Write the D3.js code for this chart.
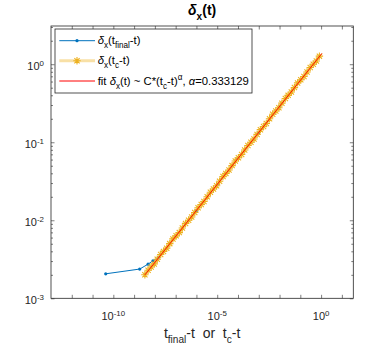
<!DOCTYPE html>
<html>
<head>
<meta charset="utf-8">
<script src="https://cdn.jsdelivr.net/npm/d3@7"></script>
<style>
  body { margin: 0; background: #fff; }
  svg { display: block; font-family: "Liberation Sans", Arial, sans-serif; }
</style>
</head>
<body>
<div id="wrapper"></div>
<script>
// delta_x(t_final - t)
const finalT = [4.3e-11, 1.86e-9, 4.7e-9, 8.1e-9, 1.5e-8, 1e-7, 1e-6, 1e-5, 1e-4, 1e-3, 1e-2, 1e-1]
const finalDelta = [2.06e-3, 2.37e-3, 2.74e-3, 3.03e-3, 3.35e-3, 6.2e-3, 1.33e-2, 2.87e-2, 6.19e-2, 0.133, 0.287, 0.619]

// delta_x(t_c - t)
const tcT = [
  3.3e-9, 4.7e-9, 6.6e-9, 9.3e-9, 1.3e-8, 1.9e-8, 2.6e-8, 3.7e-8, 5.2e-8, 7.4e-8,
  1.05e-7, 1.5e-7, 2.1e-7, 3.0e-7, 4.2e-7, 5.9e-7, 8.3e-7, 1.2e-6, 1.7e-6, 2.3e-6,
  3.3e-6, 4.7e-6, 6.6e-6, 9.3e-6, 1.3e-5, 1.9e-5, 2.6e-5, 3.7e-5, 5.2e-5, 7.4e-5,
  1.05e-4, 1.5e-4, 2.1e-4, 3.0e-4, 4.2e-4, 5.9e-4, 8.3e-4, 1.2e-3, 1.7e-3, 2.3e-3,
  3.3e-3, 4.7e-3, 6.6e-3, 9.3e-3, 1.3e-2, 1.9e-2, 2.6e-2, 3.7e-2, 5.2e-2, 7.4e-2,
  0.105, 0.15, 0.21, 0.30, 0.42, 0.59, 0.83
]
const tcDelta = [
  2.00e-3, 2.29e-3, 2.52e-3, 2.76e-3, 3.17e-3, 3.64e-3, 3.99e-3, 4.39e-3, 5.02e-3, 5.77e-3,
  6.32e-3, 6.95e-3, 7.96e-3, 9.12e-3, 1.00e-2, 1.10e-2, 1.26e-2, 1.45e-2, 1.59e-2, 1.74e-2,
  2.00e-2, 2.29e-2, 2.52e-2, 2.77e-2, 3.17e-2, 3.63e-2, 3.99e-2, 4.40e-2, 5.02e-2, 5.76e-2,
  6.32e-2, 6.96e-2, 7.96e-2, 9.10e-2, 0.100, 0.110, 0.126, 0.145, 0.159, 0.174,
  0.200, 0.229, 0.252, 0.277, 0.317, 0.363, 0.399, 0.440, 0.502, 0.576,
  0.632, 0.696, 0.796, 0.910, 1.00, 1.10, 1.27
]

// fit delta_x(t) ~ C*(t_c - t)^alpha
const fitT = [3.3e-9, 1.1]
const fitDelta = [1.995e-3, 1.377]
const alphaLabel = '0.333129'

const xTicks = [1e-12, 1e-11, 1e-10, 1e-9, 1e-8, 1e-7, 1e-6, 1e-5, 1e-4, 1e-3, 1e-2, 1e-1, 1e0, 1e1]
const xTickLabels = [[1e-10, '-10'], [1e-5, '-5'], [1e0, '0']]
const yTicks = [1e-3, 1e-2, 1e-1, 1e0]
const yTickLabels = [[1e-3, '-3'], [1e-2, '-2'], [1e-1, '-1'], [1e0, '0']]

const dimensions = {
  width: 391,
  height: 347,
  margin: { top: 26, right: 37.7, bottom: 48.7, left: 51 },
}
dimensions.boundedWidth = dimensions.width - dimensions.margin.left - dimensions.margin.right
dimensions.boundedHeight = dimensions.height - dimensions.margin.top - dimensions.margin.bottom

const axisColor = '#262626'
const blue = '#0072BD'
const orange = '#EDB120'
const red = '#FF0000'

const xScale = d3.scaleLog()
  .domain([1e-13, Math.pow(10, 1.55)])
  .range([0, dimensions.boundedWidth])
const yScale = d3.scaleLog()
  .domain([1e-3, Math.pow(10, 0.49)])
  .range([dimensions.boundedHeight, 0])

// minor y ticks 2..9 in each decade
const yMinor = []
for (let e = -3; e <= 0; e++) {
  for (let m = 2; m <= 9; m++) {
    const v = m * Math.pow(10, e)
    if (v < yScale.domain()[1]) yMinor.push(v)
  }
}

const svg = d3.select('#wrapper')
  .append('svg')
  .attr('width', dimensions.width)
  .attr('height', dimensions.height)

// rich text helper: parts are [text, 'sub' | 'sup' | 'it' | null]
function richText(sel, parts, size) {
  let shift = 0
  parts.forEach(([t, kind]) => {
    const ts = sel.append('tspan').text(t)
    let target = 0
    if (kind === 'sub') target = size * 0.35
    if (kind === 'sup') target = -size * 0.42
    ts.attr('dy', target - shift)
    shift = target
    if (kind === 'sub' || kind === 'sup') ts.attr('font-size', size * 0.72)
    if (kind === 'it') ts.attr('font-style', 'italic')
  })
}

// title
const title = svg.append('text')
  .attr('x', dimensions.margin.left + dimensions.boundedWidth / 2)
  .attr('y', 15)
  .attr('text-anchor', 'middle')
  .attr('font-size', 14)
  .attr('font-weight', 'bold')
  .attr('fill', '#000')
richText(title, [['δ', 'it'], ['x', 'sub'], ['(t)', null]], 14)

const bounds = svg.append('g')
  .attr('transform', `translate(${dimensions.margin.left}, ${dimensions.margin.top})`)

bounds.append('rect')
  .attr('width', dimensions.boundedWidth)
  .attr('height', dimensions.boundedHeight)
  .attr('fill', '#fff')

// clip path for data
bounds.append('clipPath').attr('id', 'clip')
  .append('rect')
  .attr('width', dimensions.boundedWidth)
  .attr('height', dimensions.boundedHeight)

const plot = bounds.append('g').attr('clip-path', 'url(#clip)')

const lineGen = d3.line()
  .x((d) => xScale(d[0]))
  .y((d) => yScale(d[1]))

const finalData = finalT.map((t, i) => [t, finalDelta[i]])
const tcData = tcT.map((t, i) => [t, tcDelta[i]])
const fitData = fitT.map((t, i) => [t, fitDelta[i]])

// blue series
plot.append('path')
  .datum(finalData)
  .attr('d', lineGen)
  .attr('fill', 'none')
  .attr('stroke', blue)
  .attr('stroke-width', 1)
plot.selectAll('.dot')
  .data(finalData)
  .enter()
  .append('circle')
  .attr('class', 'dot')
  .attr('cx', (d) => xScale(d[0]))
  .attr('cy', (d) => yScale(d[1]))
  .attr('r', 1.6)
  .attr('fill', blue)

// orange series: faint thick line and asterisks
plot.append('path')
  .datum(tcData)
  .attr('d', lineGen)
  .attr('fill', 'none')
  .attr('stroke', orange)
  .attr('stroke-opacity', 0.4)
  .attr('stroke-width', 3)

const starPath = (r) => {
  const a = r * 0.7071
  return `M${-r},0H${r}M0,${-r}V${r}M${-a},${-a}L${a},${a}M${-a},${a}L${a},${-a}`
}
plot.selectAll('.star')
  .data(tcData)
  .enter()
  .append('path')
  .attr('class', 'star')
  .attr('transform', (d) => `translate(${xScale(d[0])}, ${yScale(d[1])})`)
  .attr('d', starPath(3.7))
  .attr('fill', 'none')
  .attr('stroke', orange)
  .attr('stroke-width', 1.1)

// fit line
plot.append('path')
  .datum(fitData)
  .attr('d', lineGen)
  .attr('fill', 'none')
  .attr('stroke', red)
  .attr('stroke-width', 0.9)

// axes: ticks pointing inward
const xAxisGen = d3.axisBottom(xScale).tickValues(xTicks).tickSizeInner(-3.5).tickSizeOuter(0).tickFormat('')
const xAxisTopGen = d3.axisTop(xScale).tickValues(xTicks).tickSizeInner(-3.5).tickSizeOuter(0).tickFormat('')
const yAxisGen = d3.axisLeft(yScale).tickValues(yTicks).tickSizeInner(-3.5).tickSizeOuter(0).tickFormat('')
const yAxisRightGen = d3.axisRight(yScale).tickValues(yTicks).tickSizeInner(-3.5).tickSizeOuter(0).tickFormat('')
const yMinorGen = d3.axisLeft(yScale).tickValues(yMinor).tickSizeInner(-2).tickSizeOuter(0).tickFormat('')
const yMinorRightGen = d3.axisRight(yScale).tickValues(yMinor).tickSizeInner(-2).tickSizeOuter(0).tickFormat('')

const axes = [
  [xAxisGen, `translate(0, ${dimensions.boundedHeight})`],
  [xAxisTopGen, 'translate(0, 0)'],
  [yAxisGen, 'translate(0, 0)'],
  [yMinorGen, 'translate(0, 0)'],
  [yAxisRightGen, `translate(${dimensions.boundedWidth}, 0)`],
  [yMinorRightGen, `translate(${dimensions.boundedWidth}, 0)`],
]
axes.forEach(([gen, tr]) => {
  const g = bounds.append('g').attr('transform', tr).call(gen)
  g.select('.domain').remove()
  g.selectAll('line').attr('stroke', axisColor).attr('stroke-width', 0.6)
})

bounds.append('rect')
  .attr('width', dimensions.boundedWidth)
  .attr('height', dimensions.boundedHeight)
  .attr('fill', 'none')
  .attr('stroke', axisColor)
  .attr('stroke-width', 0.8)

// tick labels
xTickLabels.forEach(([v, exp]) => {
  const t = bounds.append('text')
    .attr('x', xScale(v))
    .attr('y', dimensions.boundedHeight + 22)
    .attr('text-anchor', 'middle')
    .attr('font-size', 11)
    .attr('fill', axisColor)
  richText(t, [['10', null], [exp, 'sup']], 11)
})
yTickLabels.forEach(([v, exp]) => {
  const t = bounds.append('text')
    .attr('x', -7)
    .attr('y', yScale(v) + 6)
    .attr('text-anchor', 'end')
    .attr('font-size', 11)
    .attr('fill', axisColor)
  richText(t, [['10', null], [exp, 'sup']], 11)
})

// x label
const xLabel = svg.append('text')
  .attr('x', dimensions.margin.left + dimensions.boundedWidth / 2)
  .attr('y', 338)
  .attr('text-anchor', 'middle')
  .attr('font-size', 14)
  .attr('fill', axisColor)
  .attr('xml:space', 'preserve')
richText(xLabel, [['t', null], ['final', 'sub'], ['-t  or  t', null], ['c', 'sub'], ['-t', null]], 14)

// legend
const legend = svg.append('g').attr('transform', 'translate(55, 29)')
legend.append('rect')
  .attr('width', 197)
  .attr('height', 64)
  .attr('fill', '#fff')
  .attr('stroke', axisColor)
  .attr('stroke-width', 0.8)

const legendRows = [
  { y: 11.7, color: blue, kind: 'dot', parts: [['δ', 'it'], ['x', 'sub'], ['(t', null], ['final', 'sub'], ['-t)', null]] },
  { y: 31.7, color: orange, kind: 'star', parts: [['δ', 'it'], ['x', 'sub'], ['(t', null], ['c', 'sub'], ['-t)', null]] },
  { y: 52, color: red, kind: 'line', parts: [['fit ', null], ['δ', 'it'], ['x', 'sub'], ['(t) ~ C*(t', null], ['c', 'sub'], ['-t)', null], ['α', 'sup'], [', ', null], ['α', 'it'], ['=' + alphaLabel, null]] },
]
legendRows.forEach((row) => {
  const g = legend.append('g').attr('transform', `translate(0, ${row.y})`)
  g.append('line')
    .attr('x1', 4.3).attr('x2', 40)
    .attr('stroke', row.color)
    .attr('stroke-width', row.kind === 'star' ? 3 : 1)
    .attr('stroke-opacity', row.kind === 'star' ? 0.4 : 1)
  if (row.kind === 'dot') {
    g.append('circle').attr('cx', 22).attr('r', 1.6).attr('fill', row.color)
  }
  if (row.kind === 'star') {
    g.append('path').attr('transform', 'translate(22, 0)').attr('d', starPath(3.7))
      .attr('stroke', row.color).attr('stroke-width', 1.1).attr('fill', 'none')
  }
  const t = g.append('text')
    .attr('x', 42.7)
    .attr('y', 3.6)
    .attr('font-size', 11.3)
    .attr('fill', '#000')
    .attr('xml:space', 'preserve')
  richText(t, row.parts, 11.3)
})
</script>
</body>
</html>
